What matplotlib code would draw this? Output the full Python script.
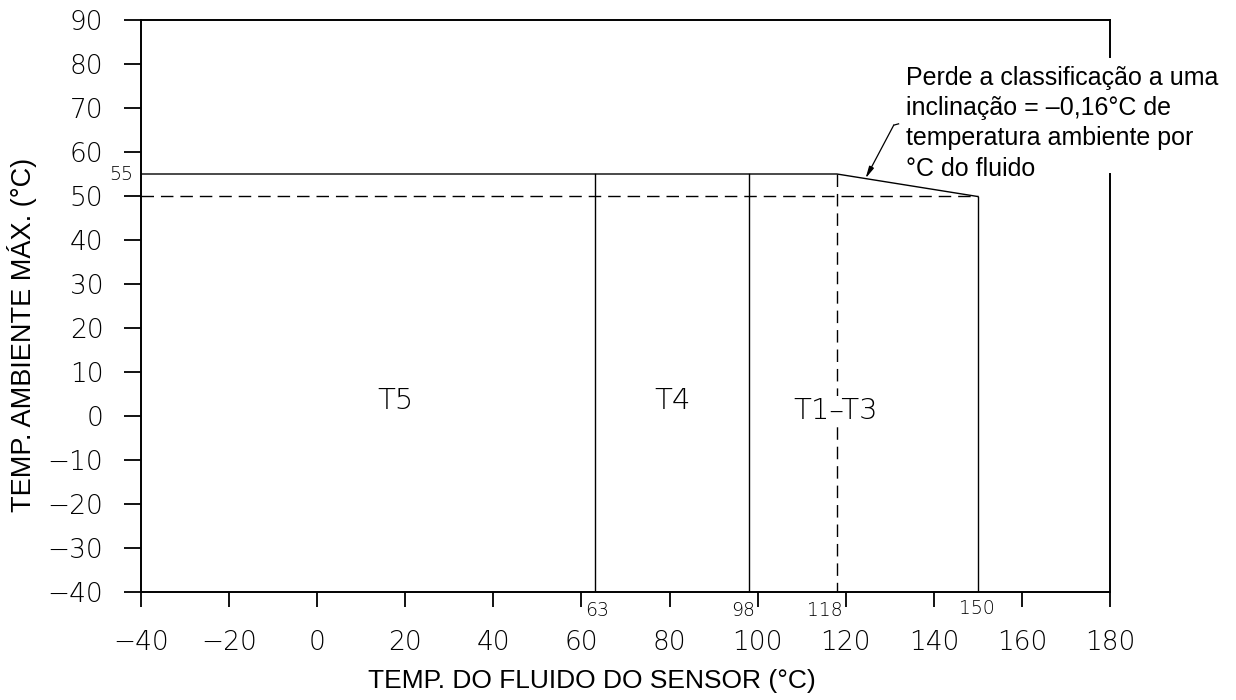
import matplotlib
matplotlib.use("Agg")
import matplotlib.pyplot as plt

# ---- data ----
x_ticks = [-40, -20, 0, 20, 40, 60, 80, 100, 120, 140, 160, 180]
y_ticks = [-40, -30, -20, -10, 0, 10, 20, 30, 40, 50, 60, 70, 80, 90]
x_min, x_max = -40, 180
y_min, y_max = -40, 90

t5_limit = 63
t4_limit = 98
derate_start = 118
max_fluid = 150
max_amb = 55
derate_amb = 50
slope = -0.16

region_names = ["T5", "T4", "T1\u2013T3"]
region_x = [17.7, 80.7, 117.6]
region_y = [3.4, 3.4, 1.1]

note = ("Perde a classificação a uma\ninclinação = \u20130,16°C de\n"
        "temperatura ambiente por\n°C do fluido")

cad_font = ["DejaVu Sans"]
plt.rcParams['font.family'] = ['Liberation Sans', 'DejaVu Sans']

fig = plt.figure(figsize=(12.36, 7.0), dpi=100)
ax = fig.add_axes([141/1236, 1-592/700, (1110-141)/1236, (592-20)/700])
ax.set_xlim(x_min, x_max)
ax.set_ylim(y_min, y_max)

lw = 1.0
k = "black"
end_amb = max_amb + slope * (max_fluid - derate_start)

# solid boundary: top line + slope
ax.plot([x_min, derate_start, max_fluid], [max_amb, max_amb, end_amb], color=k, lw=lw)
ax.plot([max_fluid, max_fluid], [end_amb, y_min], color=k, lw=lw)
ax.plot([t5_limit, t5_limit], [max_amb, y_min], color=k, lw=lw)
ax.plot([t4_limit, t4_limit], [max_amb, y_min], color=k, lw=lw)
# dashed lines
ax.plot([x_min, max_fluid], [derate_amb, derate_amb], color=k, lw=lw, ls=(0, (9, 5)))
ax.plot([derate_start, derate_start], [max_amb, y_min], color=k, lw=lw, ls=(0, (9, 5)))

# spines
for s in ["left", "bottom", "top"]:
    ax.spines[s].set_linewidth(1.4)
ax.spines["right"].set_visible(False)
ax.plot([x_max, x_max], [y_min, max_amb], color=k, lw=1.4, clip_on=False)
ax.plot([x_max, x_max], [81.5, y_max], color=k, lw=1.4, clip_on=False)

ax.set_xticks(x_ticks)
ax.set_yticks(y_ticks)
ax.set_xticklabels([("\u2212" + str(-v)) if v < 0 else str(v) for v in x_ticks],
                   fontfamily=cad_font, fontweight="light", fontsize=19)
ax.set_yticklabels([("\u2212" + str(-v)) if v < 0 else str(v) for v in y_ticks],
                   fontfamily=cad_font, fontweight="light", fontsize=19)
ax.tick_params(axis="x", direction="out", length=11, width=1.3, pad=16)
ax.tick_params(axis="y", direction="out", length=12, width=1.3, pad=15)

# small value labels
small = dict(fontfamily=cad_font, fontweight="light", fontsize=13.5, clip_on=False)
ax.text(x_min - 1.8, max_amb, str(max_amb), ha="right", va="center", **small)
ax.text(t5_limit + 0.6, y_min - 4.1, str(t5_limit), ha="center", va="center", **small)
ax.text(t4_limit - 1.2, y_min - 4.1, str(t4_limit), ha="center", va="center", **small)
ax.text(derate_start - 2.8, y_min - 4.1, str(derate_start), ha="center", va="center", **small)
ax.text(max_fluid - 0.2, y_min - 3.7, str(max_fluid), ha="center", va="center", **small)

for name, xv, yv in zip(region_names, region_x, region_y):
    ax.text(xv, yv, name, ha="center", va="center", fontfamily=cad_font,
            fontweight="light", fontsize=21,
            bbox=dict(facecolor="white", edgecolor="none", pad=1))

# annotation
ax.annotate("", xy=(124.5, 54.0), xytext=(130.9, 66.1),
            arrowprops=dict(arrowstyle="-|>,head_length=0.7,head_width=0.15",
                            color=k, lw=0.9, shrinkA=0, shrinkB=0))
ax.plot([130.9, 132.0], [66.1, 66.4], color=k, lw=0.9, clip_on=False)
ax.text(133.6, 79.6, note, ha="left", va="top", fontsize=18, linespacing=1.33,
        clip_on=False)

ax.set_xlabel("TEMP. DO FLUIDO DO SENSOR (°C)", fontsize=19)
ax.xaxis.set_label_coords(0.465, -0.155)
ax.xaxis.label.set_va("center")
ax.set_ylabel("TEMP. AMBIENTE MÁX. (°C)", fontsize=19.5)
ax.yaxis.set_label_coords(-0.123, 0.449)
ax.yaxis.label.set_va("center")

fig.savefig("out.png", dpi=100)
